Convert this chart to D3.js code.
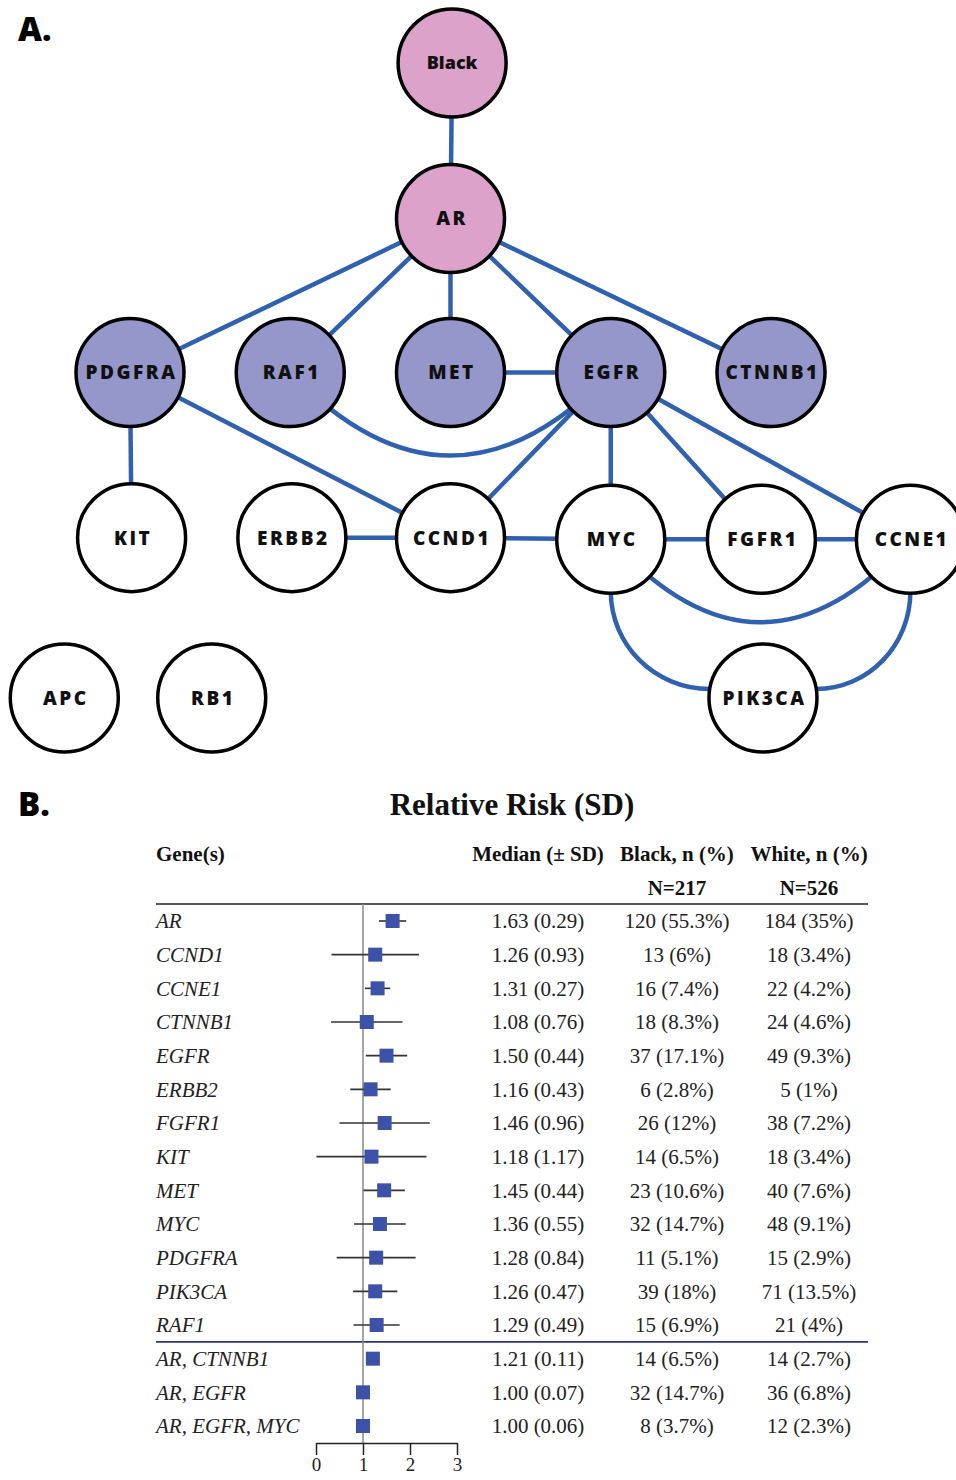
<!DOCTYPE html>
<html>
<head>
<meta charset="utf-8">
<script src="https://cdn.jsdelivr.net/npm/d3@7"></script>
<style>
  body { margin: 0; background: #fff; }
  svg { display: block; }
</style>
</head>
<body>
<div id="chart"></div>
<script>
// ---- panel A: network ----
const nodeNames = ["Black", "AR", "PDGFRA", "RAF1", "MET", "EGFR", "CTNNB1",
  "KIT", "ERBB2", "CCND1", "MYC", "FGFR1", "CCNE1", "APC", "RB1", "PIK3CA"];
const nodeTier = ["race", "top", "mid", "mid", "mid", "mid", "mid",
  "low", "low", "low", "low", "low", "low", "low", "low", "low"];
// layout grid (column, row) of each node
const nodeCol = [2.01, 2, 0, 1, 2, 3, 4, 0.01, 1.01, 2, 3, 3.94, 4.87, -0.41, 0.51, 3.95];
const nodeRow = [0, 0.98, 1.95, 1.95, 1.95, 1.95, 1.95, 2.99, 2.99, 2.99, 3, 3, 3, 4, 4, 4];

const linkSource = ["Black", "AR", "AR", "AR", "AR", "AR", "MET", "RAF1", "PDGFRA", "PDGFRA",
  "EGFR", "EGFR", "EGFR", "EGFR", "ERBB2", "CCND1", "MYC", "FGFR1", "MYC", "MYC", "CCNE1"];
const linkTarget = ["AR", "PDGFRA", "RAF1", "MET", "EGFR", "CTNNB1", "EGFR", "EGFR", "KIT", "CCND1",
  "CCND1", "MYC", "FGFR1", "CCNE1", "CCND1", "MYC", "FGFR1", "CCNE1", "CCNE1", "PIK3CA", "PIK3CA"];
const linkShape = ["line", "line", "line", "line", "line", "line", "line", "arc", "line", "line",
  "line", "line", "line", "line", "line", "line", "line", "line", "arc", "elbow", "elbow"];

// ---- panel B: relative risk table ----
const genes = ["AR", "CCND1", "CCNE1", "CTNNB1", "EGFR", "ERBB2", "FGFR1", "KIT", "MET", "MYC",
  "PDGFRA", "PIK3CA", "RAF1", "AR, CTNNB1", "AR, EGFR", "AR, EGFR, MYC"];
const medians = [1.63, 1.26, 1.31, 1.08, 1.50, 1.16, 1.46, 1.18, 1.45, 1.36, 1.28, 1.26, 1.29, 1.21, 1.00, 1.00];
const sds = [0.29, 0.93, 0.27, 0.76, 0.44, 0.43, 0.96, 1.17, 0.44, 0.55, 0.84, 0.47, 0.49, 0.11, 0.07, 0.06];
const blackN = [120, 13, 16, 18, 37, 6, 26, 14, 23, 32, 11, 39, 15, 14, 32, 8];
const blackPct = [55.3, 6, 7.4, 8.3, 17.1, 2.8, 12, 6.5, 10.6, 14.7, 5.1, 18, 6.9, 6.5, 14.7, 3.7];
const whiteN = [184, 18, 22, 24, 49, 5, 38, 18, 40, 48, 15, 71, 21, 14, 36, 12];
const whitePct = [35, 3.4, 4.2, 4.6, 9.3, 1, 7.2, 3.4, 7.6, 9.1, 2.9, 13.5, 4, 2.7, 6.8, 2.3];
const axisTicks = [0, 1, 2, 3];

var svg = d3.select("#chart").append("svg").attr("width", 956).attr("height", 1480);

var sans = "'Open Sans', 'DejaVu Sans', sans-serif";
var serif = "'Liberation Serif', 'DejaVu Serif', serif";
var fills = { race: "#dca2c9", top: "#dca2c9", mid: "#9596c9", low: "#ffffff" };
var R = 54;

svg.append("text").attr("x", 18).attr("y", 41).text("A.")
  .style("font-family", sans).style("font-weight", 800).style("font-size", "33px");

var nx = d3.scaleLinear().domain([0, 4]).range([130, 771]);
var ny = d3.scaleLinear().domain([0, 4]).range([63, 698]);

var nodes = nodeNames.map(function(n, i) {
  return { id: n, tier: nodeTier[i], x: nx(nodeCol[i]), y: ny(nodeRow[i]) };
});
var byId = {};
nodes.forEach(function(d) { byId[d.id] = d; });
var links = linkSource.map(function(s, i) {
  return { source: byId[s], target: byId[linkTarget[i]], shape: linkShape[i] };
});

function linkPath(d) {
  var s = d.source, t = d.target;
  if (d.shape == "arc") {
    // bulge downward
    var mx = (s.x + t.x) / 2, my = (s.y + t.y) / 2 + 166;
    return "M" + s.x + "," + s.y + "Q" + mx + "," + my + " " + t.x + "," + t.y;
  }
  if (d.shape == "elbow") {
    // quarter ellipse from bottom of source to side of target
    var sx = s.x, sy = s.y + R - 2;
    var side = t.x > s.x ? -1 : 1;
    var ey = t.y - 9, ex = t.x + side * Math.sqrt(R * R - 81);
    var k = 0.552;
    return "M" + s.x + "," + s.y + "L" + sx + "," + sy +
      "C" + sx + "," + (sy + k * (ey - sy)) + " " +
      (ex + k * (sx - ex)) + "," + ey + " " + ex + "," + ey;
  }
  return "M" + s.x + "," + s.y + "L" + t.x + "," + t.y;
}

svg.append("g")
  .selectAll("path")
  .data(links)
  .enter().append("path")
  .attr("d", linkPath)
  .style("fill", "none")
  .style("stroke", "#2f61b0")
  .style("stroke-width", 4.5);

var node = svg.append("g")
  .selectAll("g")
  .data(nodes)
  .enter().append("g")
  .attr("transform", function(d) { return "translate(" + d.x + "," + d.y + ")"; });

node.append("circle")
  .attr("r", R)
  .style("fill", function(d) { return fills[d.tier]; })
  .style("stroke", "#000")
  .style("stroke-width", 3.5);

node.append("text")
  .attr("text-anchor", "middle")
  .attr("dy", "0.36em")
  .attr("dx", function(d) { return d.tier == "race" ? 0 : 1.5; })
  .style("font-family", sans)
  .style("font-weight", 800)
  .style("font-size", function(d) { return d.tier == "race" ? "18px" : "19px"; })
  .style("letter-spacing", function(d) { return d.tier == "race" ? "0px" : "2.5px"; })
  .style("fill", "#111")
  .text(function(d) { return d.id; });

// ---- panel B ----
svg.append("text").attr("x", 18).attr("y", 816).text("B.")
  .style("font-family", sans).style("font-weight", 800).style("font-size", "33px");

svg.append("text").attr("x", 512).attr("y", 815).attr("text-anchor", "middle")
  .text("Relative Risk (SD)")
  .style("font-family", serif).style("font-weight", 700).style("font-size", "31px").style("fill", "#111");

var colMed = 538, colBlack = 677, colWhite = 809;
var head = svg.append("g").style("font-family", serif).style("font-weight", 700)
  .style("font-size", "21px").style("fill", "#111");
head.append("text").attr("x", 156).attr("y", 861).text("Gene(s)");
head.append("text").attr("x", colMed).attr("y", 861).attr("text-anchor", "middle").text("Median (± SD)");
head.append("text").attr("x", colBlack).attr("y", 861).attr("text-anchor", "middle").text("Black, n (%)");
head.append("text").attr("x", colWhite).attr("y", 861).attr("text-anchor", "middle").text("White, n (%)");
head.append("text").attr("x", colBlack).attr("y", 895).attr("text-anchor", "middle").text("N=217");
head.append("text").attr("x", colWhite).attr("y", 895).attr("text-anchor", "middle").text("N=526");

var x = d3.scaleLinear().domain([0, 3]).range([316, 457]);
var y = d3.scalePoint().domain(genes).range([921, 1426]);

svg.append("line").attr("x1", 156).attr("x2", 868).attr("y1", 904).attr("y2", 904)
  .style("stroke", "#222").style("stroke-width", 1.5);
var sepY = (y("RAF1") + y("AR, CTNNB1")) / 2;
svg.append("line").attr("x1", 156).attr("x2", 868).attr("y1", sepY).attr("y2", sepY)
  .style("stroke", "#2b3478").style("stroke-width", 1.8);

// reference line at RR = 1
svg.append("line").attr("x1", x(1)).attr("x2", x(1)).attr("y1", 904).attr("y2", 1443)
  .style("stroke", "#888").style("stroke-width", 1.5);

var rows = genes.map(function(g, i) {
  return { gene: g, med: medians[i], sd: sds[i], bn: blackN[i], bp: blackPct[i], wn: whiteN[i], wp: whitePct[i] };
});

var row = svg.append("g").selectAll("g")
  .data(rows)
  .enter().append("g")
  .attr("transform", function(d) { return "translate(0," + y(d.gene) + ")"; });

row.append("line")
  .attr("x1", function(d) { return x(d.med - d.sd); })
  .attr("x2", function(d) { return x(d.med + d.sd); })
  .style("stroke", "#333").style("stroke-width", 1.6);

row.append("rect")
  .attr("x", function(d) { return x(d.med) - 7; })
  .attr("y", -7)
  .attr("width", 14).attr("height", 14)
  .style("fill", "#3b52a8");

var cell = row.append("g").style("font-family", serif).style("font-size", "21px").style("fill", "#222");
cell.append("text").attr("x", 156).attr("dy", "0.35em").style("font-style", "italic")
  .text(function(d) { return d.gene; });
cell.append("text").attr("x", colMed).attr("dy", "0.35em").attr("text-anchor", "middle")
  .text(function(d) { return d.med.toFixed(2) + " (" + d.sd.toFixed(2) + ")"; });
cell.append("text").attr("x", colBlack).attr("dy", "0.35em").attr("text-anchor", "middle")
  .text(function(d) { return d.bn + " (" + d.bp + "%)"; });
cell.append("text").attr("x", colWhite).attr("dy", "0.35em").attr("text-anchor", "middle")
  .text(function(d) { return d.wn + " (" + d.wp + "%)"; });

var axis = svg.append("g")
  .attr("transform", "translate(0,1443)")
  .call(d3.axisBottom(x).tickValues(axisTicks).tickFormat(d3.format("d")).tickSize(12).tickSizeOuter(0).tickPadding(3));
axis.select(".domain").style("stroke", "#222").style("stroke-width", 1.5);
axis.selectAll(".tick line").style("stroke", "#222").style("stroke-width", 1.5);
axis.selectAll("text").style("font-family", serif).style("font-size", "19px").style("fill", "#222");
</script>
</body>
</html>
